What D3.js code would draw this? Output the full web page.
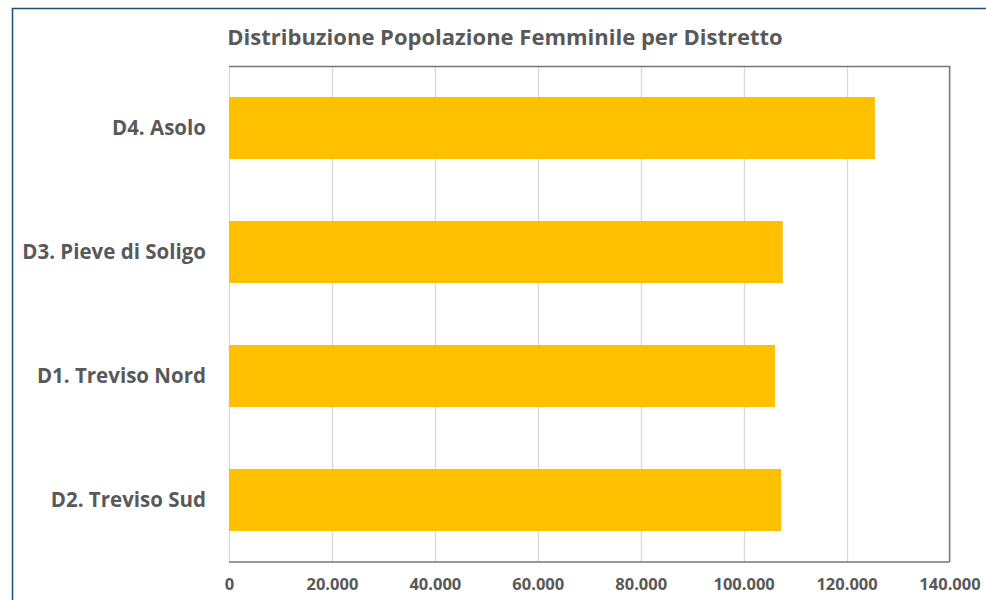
<!DOCTYPE html>
<html>
<head>
<meta charset="utf-8">
<script src="https://cdn.jsdelivr.net/npm/d3@7"></script>
<style>
  html, body { margin: 0; padding: 0; background: #fff; }
  svg { display: block; }
  text { font-family: "Open Sans", sans-serif; font-weight: bold; fill: #595959; }
</style>
</head>
<body>
<svg id="chart" width="986" height="600"></svg>
<script>
const title = "Distribuzione Popolazione Femminile per Distretto";
const categories = ["D4. Asolo", "D3. Pieve di Soligo", "D1. Treviso Nord", "D2. Treviso Sud"];
const values = [125500, 107600, 106100, 107300];
const tickValues = [0, 20000, 40000, 60000, 80000, 100000, 120000, 140000];
const tickLabels = ["0", "20.000", "40.000", "60.000", "80.000", "100.000", "120.000", "140.000"];

const svg = d3.select("#chart");
const plot = { left: 229, top: 66, right: 949.5, bottom: 562 };

// outer frame
svg.append("rect")
  .attr("x", 12.5).attr("y", 8.5)
  .attr("width", 1000).attr("height", 700)
  .attr("fill", "none").attr("stroke", "#1F4E79").attr("stroke-width", 1.5);

const x = d3.scaleLinear().domain([0, 140000]).range([plot.left, plot.right]);
const y = d3.scaleBand().domain(categories).range([plot.top, plot.bottom]).paddingInner(0.5).paddingOuter(0.25);

// gridlines
svg.append("g").selectAll("line").data(tickValues).join("line")
  .attr("x1", d => Math.round(x(d)) + 0.5).attr("x2", d => Math.round(x(d)) + 0.5)
  .attr("y1", plot.top).attr("y2", plot.bottom)
  .attr("stroke", "#d9d9d9").attr("stroke-width", 1.3);

// bars
svg.append("g").selectAll("rect").data(categories).join("rect")
  .attr("x", x(0))
  .attr("y", d => y(d))
  .attr("width", (d, i) => x(values[i]) - x(0))
  .attr("height", y.bandwidth())
  .attr("fill", "#FFC000");

// plot border top/right/bottom
svg.append("path")
  .attr("d", `M${plot.left},${plot.top + 0.5}H${plot.right}V${plot.bottom}`)
  .attr("fill", "none").attr("stroke", "#767676").attr("stroke-width", 1.3);
svg.append("line")
  .attr("x1", plot.left).attr("x2", plot.right)
  .attr("y1", plot.bottom).attr("y2", plot.bottom)
  .attr("stroke", "#767676").attr("stroke-width", 1.3);

// x axis tick labels
const xAxis = d3.axisBottom(x).tickValues(tickValues)
  .tickFormat((d, i) => tickLabels[i]).tickSize(0).tickPadding(0);
const gx = svg.append("g").attr("transform", `translate(0,${plot.bottom})`).call(xAxis);
gx.select(".domain").remove();
gx.selectAll("text").attr("y", 28).attr("dy", null)
  .style("font-size", "16.5px").style("font-family", "'Open Sans', sans-serif").style("font-weight", "bold").attr("fill", "#595959");

// y axis labels
const yAxis = d3.axisLeft(y).tickSize(0).tickPadding(23);
const gy = svg.append("g").attr("transform", `translate(${plot.left},0)`).call(yAxis);
gy.select(".domain").remove();
gy.selectAll("text").attr("dy", "0.36em")
  .style("font-size", "20.5px").style("font-family", "'Open Sans', sans-serif").style("font-weight", "bold").attr("fill", "#595959");

// title
svg.append("text")
  .attr("x", 505).attr("y", 45)
  .attr("text-anchor", "middle")
  .style("font-size", "22px")
  .text(title);
</script>
</body>
</html>
